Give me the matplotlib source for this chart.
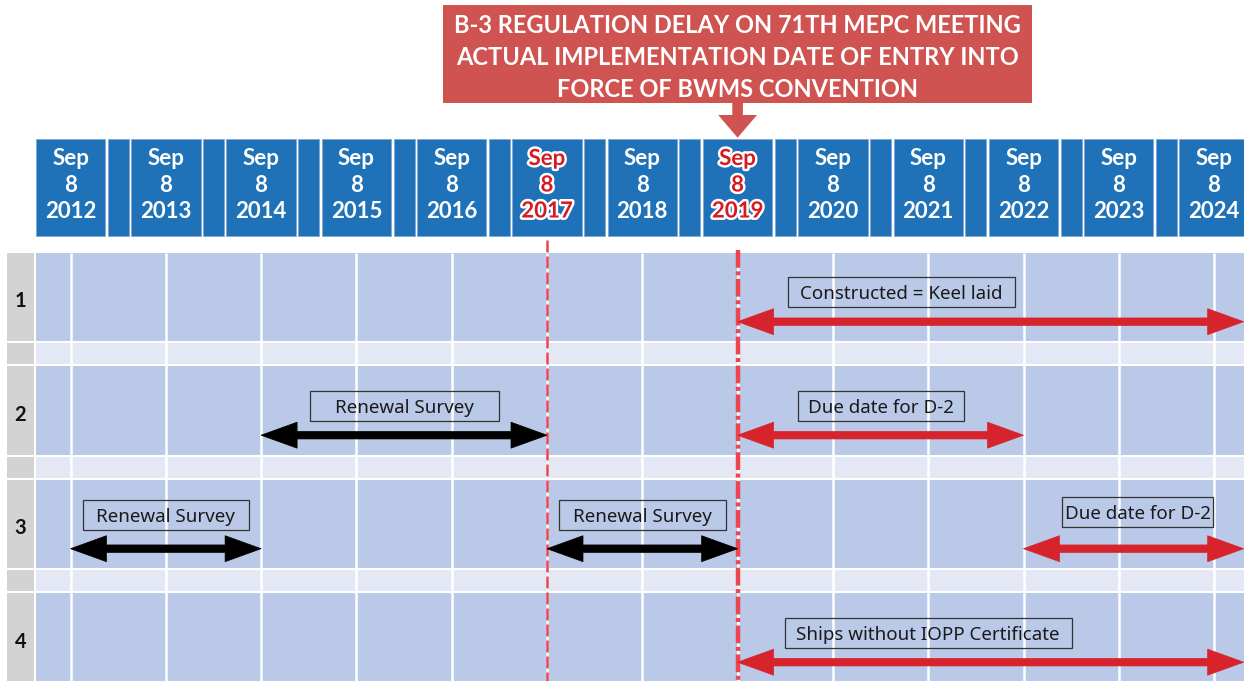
import numpy as np
import matplotlib.pyplot as plt
from matplotlib.patches import Rectangle, Polygon
import matplotlib.patheffects as pe

plt.rcParams['font.family'] = ['Noto Sans', 'DejaVu Sans']
BOLD_FONT = ['Lato', 'DejaVu Sans']

# timeline data
years = np.arange(2012, 2025)
month_txt = "Sep"
day_txt = "8"
highlight_years = [2017, 2019]
row_labels = ["1", "2", "3", "4"]

title_lines = ["B-3 REGULATION DELAY ON 71TH MEPC MEETING",
               "ACTUAL IMPLEMENTATION DATE OF ENTRY INTO",
               "FORCE OF BWMS CONVENTION"]
title_year = 2019

span_row = [1, 2, 2, 3, 3, 3, 4]
span_start = [2019, 2014, 2019, 2012, 2017, 2022, 2019]
span_end = [2024.31, 2017, 2022, 2014, 2019, 2024.31, 2024.31]
span_color = ["red", "black", "red", "black", "black", "red", "red"]
span_text = ["Constructed = Keel laid", "Renewal Survey", "Due date for D-2",
             "Renewal Survey", "Renewal Survey", "Due date for D-2",
             "Ships without IOPP Certificate"]
label_x = [2020.72, 2015.5, 2020.5, 2013.0, 2018.0, 2023.2, 2021.0]

# layout (pixels)
X2012 = 70.5
PPY = 95.3
W, H = 1244, 681
label_w = [227, 189, 166, 166, 167, 151, 287]
label_dy = [39, 39.5, 39.5, 35, 35, 32, 40]
ROW_TOP0, ROW_PITCH, ROW_H, SEP_H = 252.7, 113.5, 88.5, 21

HEADER_BLUE = '#1f72b8'
ROW_BLUE = '#b9c9e7'
SEP_BLUE = '#e3e8f4'
GRAY = '#d3d3d3'
TITLE_RED = '#cf5350'
ARROW_RED = '#d7232b'
LINE_RED = '#ee4450'
TEXT_RED = '#d71920'
COLORS = {"red": ARROW_RED, "black": "black"}


def px2yr(px):
    return 2012 + (px - X2012) / PPY


def dx(px):
    return px / PPY


def double_arrow(ax, x0, x1, y, color, hl=36, hw=26, sw=7.5):
    h = dx(hl)
    pts = [(x0, y), (x0 + h, y - hw / 2), (x0 + h, y - sw / 2),
           (x1 - h, y - sw / 2), (x1 - h, y - hw / 2), (x1, y),
           (x1 - h, y + hw / 2), (x1 - h, y + sw / 2),
           (x0 + h, y + sw / 2), (x0 + h, y + hw / 2)]
    ax.add_patch(Polygon(pts, closed=True, fc=color, ec=color, lw=0.5, zorder=6))


fig = plt.figure(figsize=(12.44, 6.81), dpi=100)
ax = fig.add_axes([0, 0, 1, 1])
ax.set_xlim(px2yr(0), px2yr(W))
ax.set_ylim(H, 0)
ax.axis('off')

# title box + arrow pointing at the header
ax.add_patch(Rectangle((title_year - dx(294.5), 5), dx(589), 98, fc=TITLE_RED, ec='none'))
for i, line in enumerate(title_lines):
    ax.text(title_year, 33 + i * 32, line, ha='center', va='baseline',
            fontsize=17, fontweight='bold', color='white', family=BOLD_FONT)
ax.add_patch(Polygon([(title_year - dx(5.3), 102), (title_year + dx(5.3), 102),
                      (title_year + dx(5.3), 115), (title_year + dx(19.4), 115),
                      (title_year, 137.7), (title_year - dx(19.4), 115),
                      (title_year - dx(5.3), 115)], closed=True, fc=TITLE_RED, ec='none'))

# header year boxes
for y in years:
    ax.add_patch(Rectangle((y - dx(34.7), 139.3), dx(69.4), 96.7,
                           fc=HEADER_BLUE, ec='#7fa9d6', lw=0.6))
    if y < years[-1]:
        ax.add_patch(Rectangle((y + 0.5 - dx(10.5), 139.3), dx(21), 96.7,
                               fc=HEADER_BLUE, ec='#7fa9d6', lw=0.6))
    hot = y in highlight_years
    for txt, base in zip([month_txt, day_txt, str(y)], [165, 191.5, 217.5]):
        t = ax.text(y, base, txt, ha='center', va='baseline', fontsize=16,
                    fontweight='bold', family=BOLD_FONT,
                    color=TEXT_RED if hot else 'white')
        if hot:
            t.set_path_effects([pe.withStroke(linewidth=3.5, foreground='white')])

# body rows
for i, lab in enumerate(row_labels):
    top = ROW_TOP0 + i * ROW_PITCH
    h = ROW_H if i < len(row_labels) - 1 else H - top
    ax.add_patch(Rectangle((px2yr(7), top), dx(27), h, fc=GRAY, ec='none'))
    ax.add_patch(Rectangle((px2yr(36), top), dx(W - 36), h, fc=ROW_BLUE, ec='none'))
    ax.text(px2yr(20.5), top + 54.6, lab, ha='center', va='baseline',
            fontsize=14.5, fontweight='bold', family=BOLD_FONT, color='#111111')
    if i < len(row_labels) - 1:
        stop = top + ROW_H + 2
        ax.add_patch(Rectangle((px2yr(7), stop), dx(27), SEP_H, fc=GRAY, ec='none'))
        ax.add_patch(Rectangle((px2yr(36), stop), dx(W - 36), SEP_H, fc=SEP_BLUE, ec='none'))

ax.vlines(years, ROW_TOP0, H, colors='white', lw=1.8, zorder=2)

# key dates
ax.plot([2017, 2017], [240, H], color=LINE_RED, lw=1.8, dashes=[4.8, 1.6], zorder=4)
ax.plot([2019, 2019], [250, H], color=LINE_RED, lw=3.2, dashes=[4.0, 0.8, 0.9, 0.8], zorder=4)

# spans
for r, x0, x1, c, txt, lx, lw_, ldy in zip(span_row, span_start, span_end, span_color,
                                           span_text, label_x, label_w, label_dy):
    top = ROW_TOP0 + (r - 1) * ROW_PITCH
    double_arrow(ax, x0, x1, top + 69, COLORS[c])
    cy = top + ldy
    ax.add_patch(Rectangle((lx - dx(lw_ / 2), cy - 15), dx(lw_), 30,
                           fill=False, ec='#333333', lw=0.9, zorder=5))
    ax.text(lx, cy + 7.3, txt, ha='center', va='baseline', fontsize=13.5,
            color='#1a1a1a', zorder=5)

fig.savefig('out.png', dpi=100)
